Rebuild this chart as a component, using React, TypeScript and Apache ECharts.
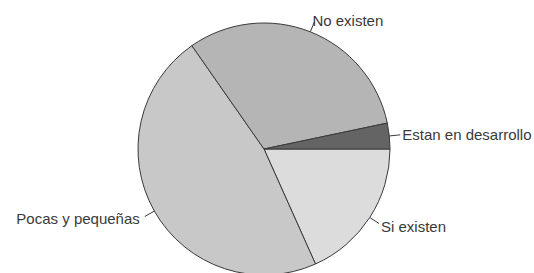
import React, { useEffect, useRef } from "react";
import * as echarts from "echarts";

const categories = ["Si existen", "Pocas y pequeñas", "No existen", "Estan en desarrollo"];
const values = [18.3, 47.0, 31.4, 3.3];
const colors = ["#dcdcdc", "#c8c8c8", "#b5b5b5", "#646464"];
const labelShift = [[0, 3], [-3, 2], [-2, -1], [0, 0]];
const labelGaps = [2, 2, 0, 2];

export default function App() {
  const ref = useRef<HTMLDivElement>(null);
  useEffect(() => {
    if (!ref.current) return;
    const chart = echarts.init(ref.current, null, { renderer: "svg" });
    chart.setOption({
      animation: false,
      backgroundColor: "#ffffff",
      series: [
        {
          type: "pie",
          center: [264, 149],
          radius: 126,
          startAngle: 0,
          clockwise: true,
          avoidLabelOverlap: false,
          data: categories.map((c, i) => ({
            name: c,
            value: values[i],
            itemStyle: { color: colors[i] },
            label: { offset: labelShift[i], distanceToLabelLine: labelGaps[i] },
          })),
          itemStyle: { borderColor: "#3a3a3a", borderWidth: 1 },
          label: {
            show: true,
            formatter: "{b}",
            color: "#3a3a3a",
            fontFamily: "Liberation Sans, Arial, sans-serif",
            fontSize: 15,
            distanceToLabelLine: 2,
          },
          labelLine: {
            show: true,
            length: 11,
            length2: 0,
            lineStyle: { color: "#3a3a3a", width: 1 },
          },
          emphasis: { disabled: true },
        },
      ],
    });
    return () => chart.dispose();
  }, []);
  return (
    <div
      ref={ref}
      style={{ position: "fixed", left: 0, top: 0, width: 534, height: 273 }}
    />
  );
}
